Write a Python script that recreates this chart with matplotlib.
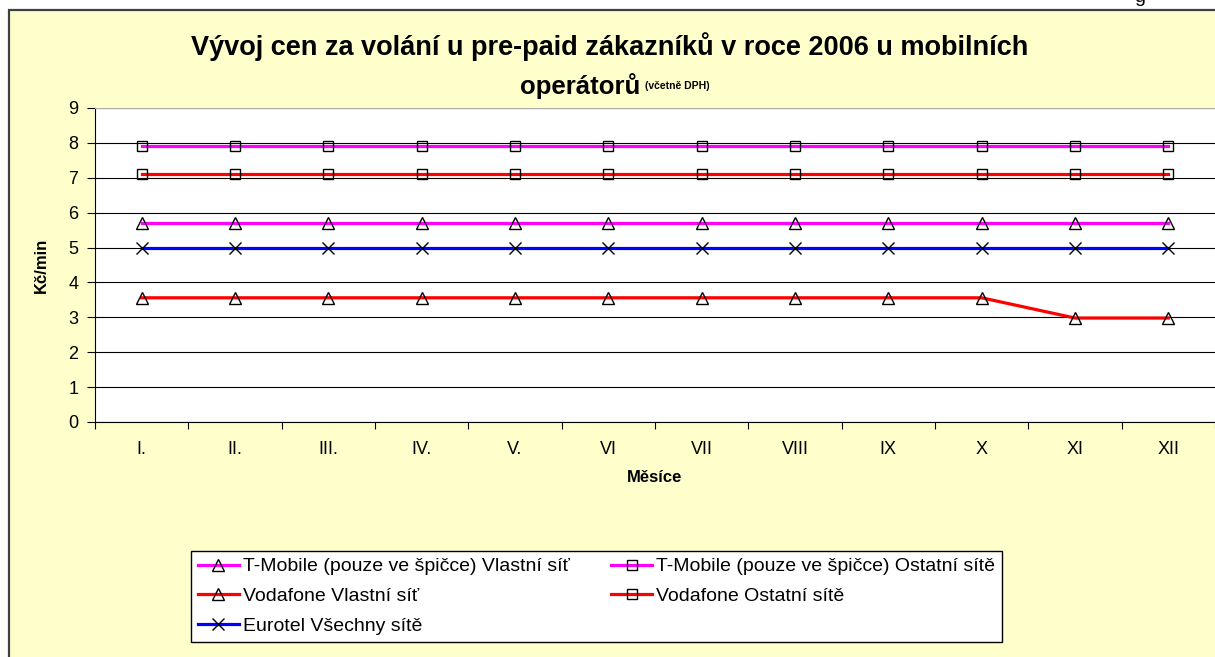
import matplotlib
matplotlib.use('Agg')
import matplotlib.pyplot as plt # graficos
from matplotlib.patches import Rectangle # moldura do grafico
import numpy as np

plt.rcParams['font.family'] = ['Liberation Sans', 'DejaVu Sans']

# dados (Kc/min)
mesice = ['I.', 'II.', 'III.', 'IV.', 'V.', 'VI', 'VII', 'VIII', 'IX', 'X', 'XI', 'XII']
tmobile_vlastni = [5.7] * 12
tmobile_ostatni = [7.9] * 12
vodafone_vlastni = [3.56, 3.56, 3.56, 3.56, 3.56, 3.56, 3.56, 3.56, 3.56, 3.56, 2.98, 2.98]
vodafone_ostatni = [7.12] * 12
eurotel_vsechny = [4.99] * 12

W, H = 1215, 657
fig = plt.figure(figsize=(W / 100, H / 100), dpi=100, facecolor='white')

# moldura amarela
fig.patches.append(Rectangle((9 / W, -0.1), 1.2, (H - 10) / H + 0.1, transform=fig.transFigure,
                             facecolor='#FFFFCC', edgecolor='#404040', lw=1.6, zorder=-10))
fig.text(1140 / W, 1 - 2 / H, 'g', fontsize=14, va='baseline', ha='center')

ax = fig.add_axes([95 / W, (H - 422) / H, 1120 / W, 314 / H])
ax.set_facecolor('white')
x = np.arange(len(mesice))

l1, = ax.plot(x, tmobile_vlastni, color='#FF00FF', lw=2.3, marker='^', ms=8, mfc='none', mec='black', mew=1.0,
              label='T-Mobile (pouze ve špičce) Vlastní síť')
l2, = ax.plot(x, tmobile_ostatni, color='#FF00FF', lw=2.3, marker='s', ms=7, mfc='none', mec='black', mew=1.0,
              label='T-Mobile (pouze ve špičce) Ostatní sítě')
l3, = ax.plot(x, vodafone_vlastni, color='#FF0000', lw=2.3, marker='^', ms=8, mfc='none', mec='black', mew=1.0,
              label='Vodafone Vlastní síť')
l4, = ax.plot(x, vodafone_ostatni, color='#FF0000', lw=2.3, marker='s', ms=7, mfc='none', mec='black', mew=1.0,
              label='Vodafone Ostatní sítě')
l5, = ax.plot(x, eurotel_vsechny, color='#0000FF', lw=2.3, marker='x', ms=8, mec='black', mew=1.0,
              label='Eurotel Všechny sítě')

ax.set_xlim(-0.5, 11.5)
ax.set_ylim(0, 9)
ax.set_yticks(range(10))
ax.yaxis.grid(True, color='black', lw=0.8)
ax.set_axisbelow(True)
ax.set_xticks(np.arange(-0.5, 12, 1))
ax.set_xticklabels([])
ax.set_xticks(x, minor=True)
ax.set_xticklabels(mesice, minor=True)
ax.tick_params(axis='x', which='minor', length=0, pad=14, labelsize=13)
ax.tick_params(axis='x', which='major', length=5, direction='out', color='black')
ax.tick_params(axis='y', length=6, direction='out', labelsize=13, pad=6)
for s in ['left', 'bottom']:
    ax.spines[s].set_color('black')
ax.spines['top'].set_color('#B0B0B0')
ax.spines['right'].set_visible(False)

ax.set_xlabel('Měsíce', fontsize=12, fontweight='bold', labelpad=8)
ax.set_ylabel('Kč/min', fontsize=12, fontweight='bold', labelpad=14)

# titulo
fig.text(610 / W, 1 - 47 / H, 'Vývoj cen za volání u pre-paid zákazníků v roce 2006 u mobilních',
         fontsize=19.5, fontweight='bold', ha='center', va='center')
fig.text(640 / W, 1 - 86 / H, 'operátorů', fontsize=18.5, fontweight='bold', ha='right', va='center')
fig.text(645 / W, 1 - 86 / H, '(včetně DPH)', fontsize=7.5, fontweight='bold', ha='left', va='center')

leg = fig.legend([l1, l3, l5, l2, l4], [l.get_label() for l in [l1, l3, l5, l2, l4]],
                 ncol=2, loc='upper left', bbox_to_anchor=(191 / W, 1 - 551 / H),
                 fontsize=14, frameon=True, fancybox=False, edgecolor='black',
                 handlelength=2.1, handletextpad=0.2, columnspacing=2.15,
                 labelspacing=0.62, borderpad=0.35, borderaxespad=0)
leg.get_frame().set_linewidth(1.0)
leg.get_frame().set_facecolor('white')
leg.get_frame().set_alpha(1)

fig.savefig('out.png', dpi=100, facecolor=fig.get_facecolor())
